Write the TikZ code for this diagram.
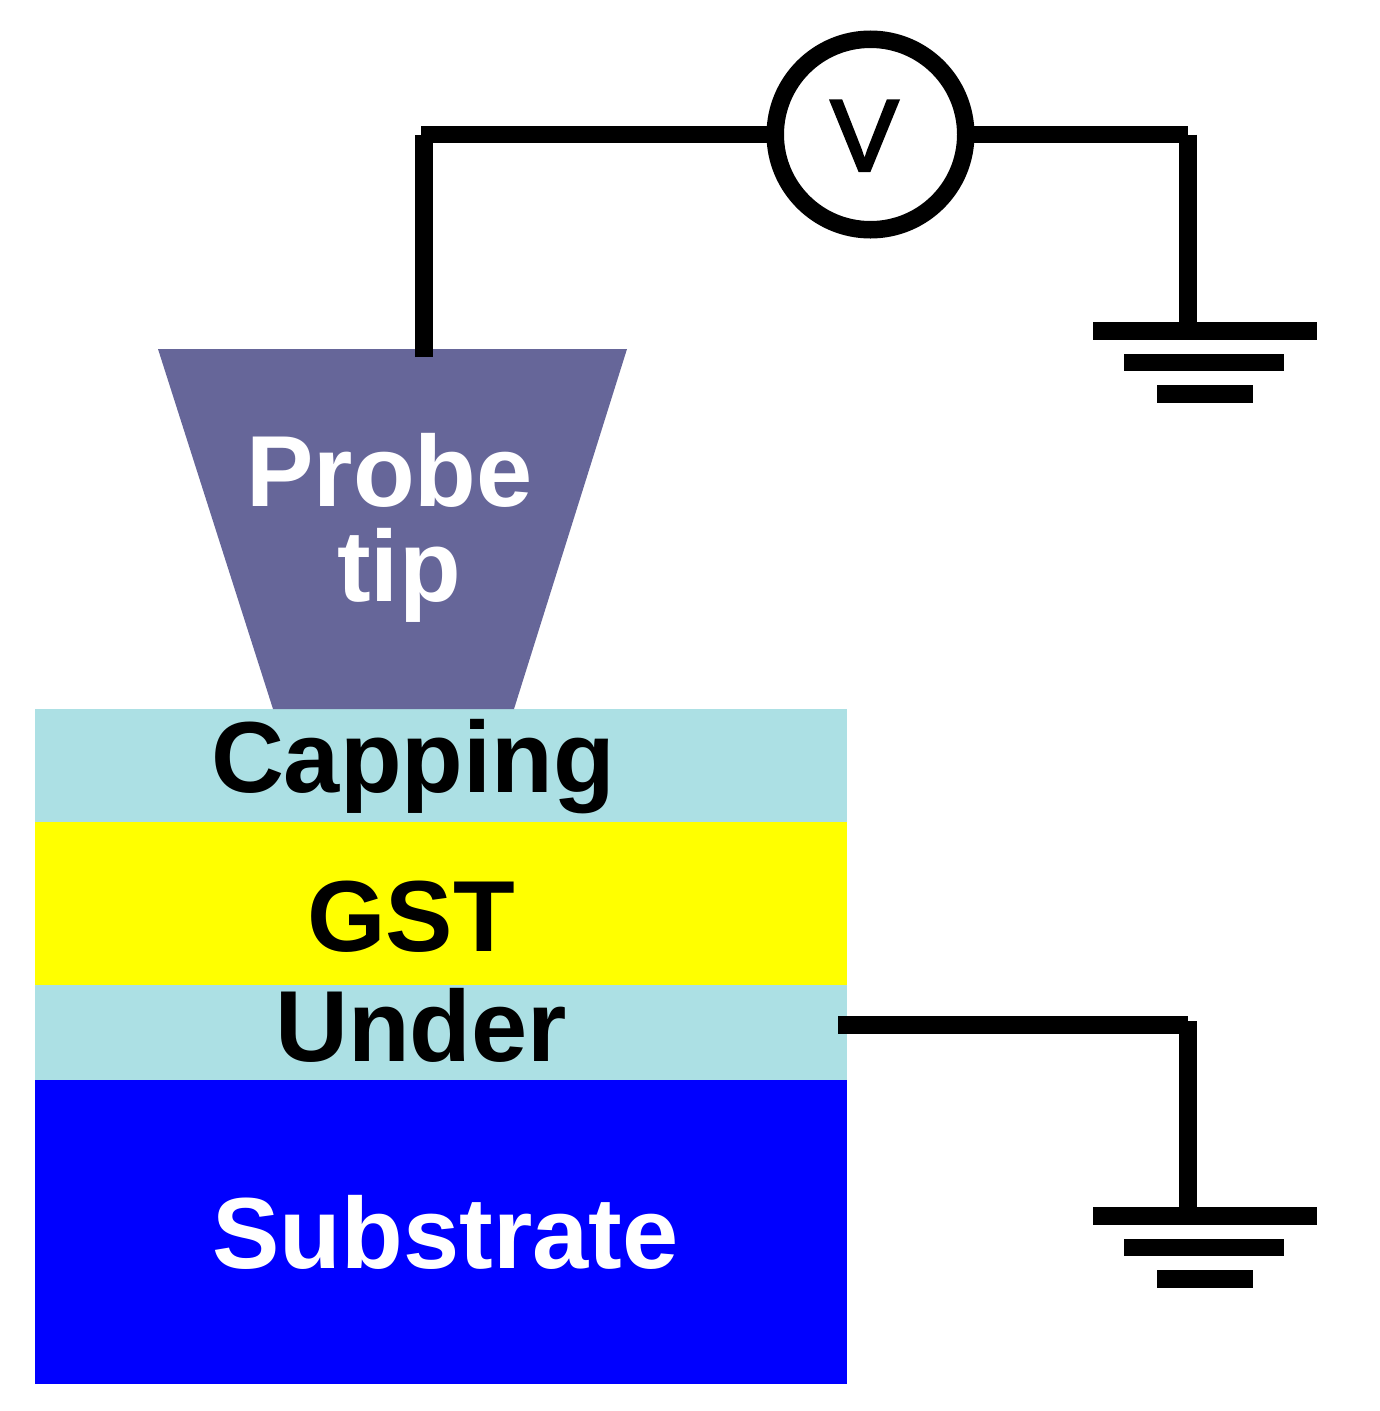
\documentclass[tikz,border=0pt]{standalone}
\usepackage{fontspec}
\setmainfont{Liberation Sans}
\newfontfamily\vfont[FakeBold=3]{Liberation Sans}
\definecolor{probecol}{RGB}{102,102,153}
\definecolor{capcol}{RGB}{172,224,228}
\definecolor{gstcol}{RGB}{255,255,0}
\definecolor{subcol}{RGB}{0,0,255}
\tikzset{
  x=1pt,y=-1pt,
  layer/.style={draw=none,minimum width=812pt,inner sep=0pt,outer sep=0pt,anchor=north west},
  lbl/.style={font=\fontsize{101}{101}\selectfont\bfseries,inner sep=0pt,anchor=base},
  wire/.style={line width=17.5pt,line cap=butt},
  gbar/.style={fill=black,draw=none,inner sep=0pt,outer sep=0pt}
}
\begin{document}
\begin{tikzpicture}
\useasboundingbox (0,0) rectangle (1379,1411);
% layers
\node[layer,fill=capcol,minimum height=113.5pt] (capl) at (35,709) {};
\node[layer,fill=gstcol,minimum height=162.5pt] (gstl) at (35,822.3) {};
\node[layer,fill=capcol,minimum height=95pt] (undl) at (35,984.6) {};
\node[layer,fill=subcol,minimum height=304.5pt] (subl) at (35,1079.5) {};
% probe
\fill[probecol] (158,349) -- (627,349) -- (514,709) -- (273,709) -- cycle;
\coordinate (tiptop) at (424,357);
\coordinate (c1v) at (424,134.5);
\coordinate (c1h) at (421,134.5);
\coordinate (c2h) at (1188,134.5);
\coordinate (c2v) at (1188,134.5);
\coordinate (g1) at (1188,330);
\coordinate (uend) at (838,1025);
\coordinate (c3h) at (1188,1025);
\coordinate (c3v) at (1188,1021);
\coordinate (g2) at (1188,1216);
% voltmeter
\node[circle,draw=black,line width=17.5pt,fill=white,minimum size=190.5pt,inner sep=0pt,outer sep=0pt] (vm) at (870.5,134.5) {};
\draw[wire] (tiptop) -- (c1v);
\draw[wire] (c1h) -- (vm.west);
\draw[wire] (vm.east) -- (c2h);
\draw[wire] (c2v) -- (g1);
\draw[wire] (uend) -- (c3h);
\draw[wire] (c3v) -- (g2);
% ground symbols
\node[gbar,minimum width=224pt,minimum height=18pt] (g1a) at (1204.5,331) {};
\node[gbar,minimum width=160pt,minimum height=17pt] (g1b) at (1204,362.5) {};
\node[gbar,minimum width=96pt,minimum height=18pt] (g1c) at (1204.5,393.5) {};
\node[gbar,minimum width=224pt,minimum height=18pt] (g2a) at (1204.5,1216) {};
\node[gbar,minimum width=160pt,minimum height=17pt] (g2b) at (1204,1247.5) {};
\node[gbar,minimum width=96pt,minimum height=18pt] (g2c) at (1204.5,1278.5) {};
% labels
\node[inner sep=0pt,anchor=base,font=\vfont\fontsize{101}{101}\selectfont] (vt) at (864.5,170.5) {V};
\node[lbl,text=white] (pt) at (389.5,506.5) {Probe};
\node[lbl,text=white] (tt) at (399,601) {tip};
\node[lbl] (cp) at (413,792) {Capping};
\node[lbl] (gt) at (411,951.5) {GST};
\node[lbl] (ut) at (421,1061.5) {Under};
\node[lbl,text=white] (st) at (445.5,1268.5) {Substrate};
\end{tikzpicture}
\end{document}
